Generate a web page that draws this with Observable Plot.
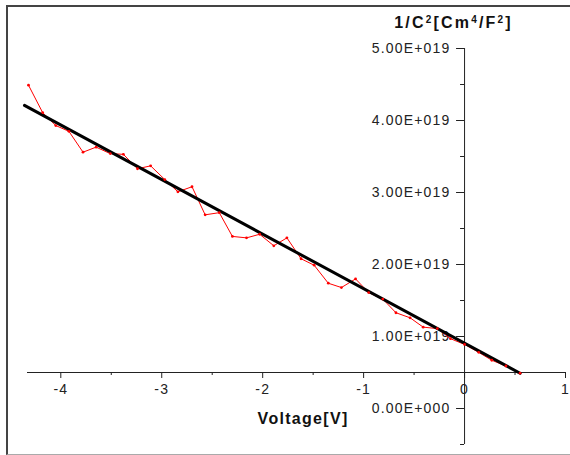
<!DOCTYPE html>
<html><head><meta charset="utf-8">
<script src="https://cdn.jsdelivr.net/npm/d3@7"></script>
<script src="https://cdn.jsdelivr.net/npm/@observablehq/plot@0.6"></script>
<style>
body{margin:0;background:#fff;}
#wrap{position:relative;width:570px;height:455px;overflow:hidden;}
#border{position:absolute;left:6px;top:5px;width:580px;height:447px;border-left:2px solid #444;border-top:2px solid #444;border-bottom:1px solid #aaa;pointer-events:none;}
.chart text{letter-spacing:1.2px;}
</style></head><body><div id="wrap"><div id="border"></div></div>
<script>
// Measured data: Voltage [V] vs 1/C^2 [cm^4/F^2]
const voltage = [-4.32,-4.18,-4.05,-3.92,-3.78,-3.65,-3.51,-3.38,-3.24,-3.11,-2.97,-2.84,-2.70,-2.57,-2.43,-2.30,-2.16,-2.03,-1.89,-1.76,-1.62,-1.49,-1.35,-1.22,-1.08,-0.95,-0.81,-0.68,-0.54,-0.41,-0.27,-0.14,0.00,0.14,0.27,0.41,0.55];
const invC2 = [4.49e19,4.11e19,3.93e19,3.85e19,3.56e19,3.63e19,3.54e19,3.53e19,3.33e19,3.37e19,3.18e19,3.01e19,3.08e19,2.69e19,2.72e19,2.39e19,2.37e19,2.42e19,2.26e19,2.37e19,2.08e19,1.99e19,1.74e19,1.68e19,1.80e19,1.61e19,1.52e19,1.33e19,1.26e19,1.13e19,1.11e19,0.97e19,0.89e19,0.78e19,0.67e19,0.59e19,0.49e19];
// Linear fit endpoints
const fitVoltage = [-4.36, 0.55];
const fitInvC2 = [4.21e19, 0.49e19];
// Ticks
const xTicks = [-4,-3,-2,-1,0,1];
const xMinorTicks = [-3.5,-2.5,-1.5,-0.5,0.5];
const yTicks = [0,1e19,2e19,3e19,4e19,5e19];
const yMinorTicks = [-0.5e19,0.5e19,1.5e19,2.5e19,3.5e19,4.5e19];
const xTitle = "Voltage[V]";
// y title pieces: [text, isSuperscript]
const yTitleParts = [["1/C",false],["2",true],["[Cm",false],["4",true],["/F",false],["2",true],["]",false]];
const yTitle = yTitleParts.map(p => p[0]).join("");
const xDomain = [-4.33, 1];
const yDomain = [-0.5e19, 5e19];
const xAxisAt = 0.5e19;
const yAxisAt = 0;

const points = voltage.map((v,i)=>({v, c: invC2[i]}));
const fit = fitVoltage.map((v,i)=>({v, c: fitInvC2[i]}));

const W=570, H=455, mL=27, mR=5, mT=48, mB=11;
const xs = Plot.scale({x:{domain:xDomain, range:[mL, W-mR]}});
const ys = Plot.scale({y:{domain:yDomain, range:[H-mB, mT]}});
const axDy = ys.apply(xAxisAt) - ys.apply(yDomain[0]);
const axDx = xs.apply(yAxisAt) - xs.apply(xDomain[0]);

const fmtE = d => {
  if (d === 0) return "0.00E+000";
  const e = Math.floor(Math.log10(Math.abs(d)) + 1e-9);
  return (d/10**e).toFixed(2) + "E+" + String(e).padStart(3,"0");
};
const font = "'Liberation Sans', Arial, sans-serif";

const chart = Plot.plot({
  width: W, height: H,
  marginLeft: mL, marginRight: mR, marginTop: mT, marginBottom: mB,
  className: "chart",
  style: {fontFamily: font, fontSize: "14px", color: "#222", background: "transparent", overflow: "visible"},
  x: {domain: xDomain},
  y: {domain: yDomain},
  marks: [
    Plot.ruleY([xAxisAt], {stroke: "#222", strokeWidth: 1}),
    Plot.ruleX([yAxisAt], {stroke: "#222", strokeWidth: 1}),
    Plot.axisX(xTicks, {anchor: "bottom", dy: axDy, tickSize: 6, tickPadding: 6, tickFormat: d => String(d), label: null, stroke: "#222"}),
    Plot.axisX(xMinorTicks, {anchor: "bottom", dy: axDy, tickSize: 3, tickFormat: () => "", label: null, stroke: "#222"}),
    Plot.axisY(yTicks, {anchor: "left", dx: axDx, tickSize: 8, tickPadding: 6, tickFormat: fmtE, label: null, stroke: "#222"}),
    Plot.axisY(yMinorTicks, {anchor: "left", dx: axDx, tickSize: 4, tickFormat: () => "", label: null, stroke: "#222"}),
    Plot.line(points, {x: "v", y: "c", stroke: "#ff0000", strokeWidth: 1}),
    Plot.line(fit, {x: "v", y: "c", stroke: "#000", strokeWidth: 3}),
    Plot.dot(points, {x: "v", y: "c", r: 1.4, fill: "#ff0000", stroke: null}),
    Plot.text([yTitle], {x: yAxisAt, y: yDomain[1], dx: -11, dy: -26, text: d => d, fontWeight: "bold", fontSize: 16, fill: "#111"}),
    Plot.text([xTitle], {x: -1.6, y: xAxisAt, dy: 46, text: d => d, fontWeight: "bold", fontSize: 16, fill: "#111"})
  ]
});
// render superscripts in the y title as tspans, and widen title letter spacing
d3.select(chart).selectAll("text").each(function() {
  const el = d3.select(this);
  const s = this.textContent;
  if (s === xTitle) el.style("letter-spacing", "1.3px");
  if (s !== yTitle) return;
  el.style("letter-spacing", "2.2px");
  el.text(null);
  yTitleParts.forEach(([p, sup], i) => {
    const prevSup = i > 0 && yTitleParts[i-1][1];
    const ts = el.append("tspan").text(p);
    if (sup) ts.attr("dy", "-5px").attr("font-size", "10px");
    else if (prevSup) ts.attr("dy", "5px");
  });
});
document.getElementById("wrap").prepend(chart);
</script>
</body></html>
